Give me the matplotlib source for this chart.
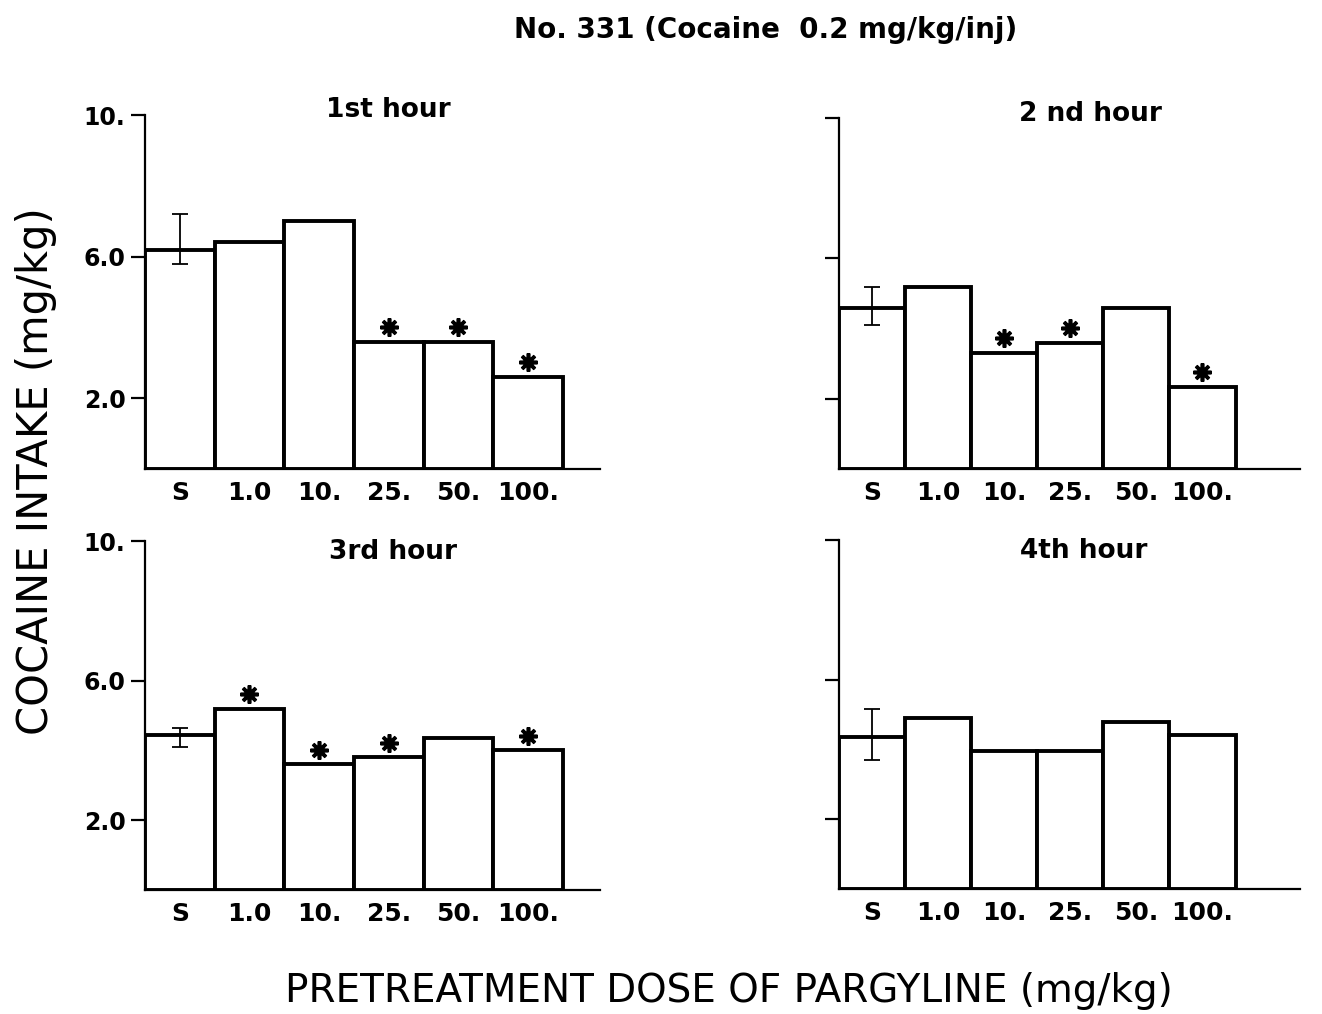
import matplotlib
matplotlib.use("Agg")
import matplotlib.pyplot as plt
import numpy as np

# 資料
doses = ['S', '1.0', '10.', '25.', '50.', '100.']
hour_titles = ['1st hour', '2 nd hour', '3rd hour', '4th hour']

hour1 = [6.2, 6.4, 7.0, 3.6, 3.6, 2.6]
hour2 = [4.6, 5.2, 3.3, 3.6, 4.6, 2.35]
hour3 = [4.45, 5.2, 3.6, 3.8, 4.35, 4.0]
hour4 = [4.35, 4.9, 3.95, 3.95, 4.8, 4.4]

# saline 誤差範圍 (下限, 上限)
saline_err = [(5.8, 7.2), (4.1, 5.2), (4.1, 4.65), (3.7, 5.15)]

# 顯著差異 (*) 的位置
stars = [[3, 4, 5], [2, 3, 5], [1, 2, 3, 5], []]

ytick_vals = [2.0, 6.0, 10.0]
ytick_labels = ['2.0', '6.0', '10.']

fig = plt.figure(figsize=(13.22, 10.14), dpi=100)

# 各面板位置 [left, bottom, width, height] 與 x 範圍
rects = [
    [0.1097, 0.5375, 0.344, 0.349],
    [0.6346, 0.5375, 0.349, 0.346],
    [0.1097, 0.1223, 0.344, 0.344],
    [0.6346, 0.1233, 0.349, 0.344],
]
xmax = [6.03, 6.48, 6.03, 6.48]
title_pos = [(0.535, 1.015), (0.545, 1.013), (0.545, 0.97), (0.53, 0.97)]

xtick_font = dict(family='DejaVu Sans', weight='bold', size=18)
ytick_font = dict(family='DejaVu Sans', weight='bold', size=17)

for i, vals in enumerate([hour1, hour2, hour3, hour4]):
    ax = fig.add_axes(rects[i])
    x = np.arange(len(doses))
    ax.bar(x, vals, width=1.0, color='white', edgecolor='black', linewidth=2.8, zorder=2)

    lo, hi = saline_err[i]
    ax.errorbar([0], [vals[0]], yerr=[[vals[0] - lo], [hi - vals[0]]], fmt='none',
                ecolor='black', elinewidth=1.3, capsize=6, capthick=1.3, zorder=3)

    for s in stars[i]:
        ax.plot(s, vals[s] + 0.42, marker=(8, 2, 0), markersize=13, mew=2.6,
                color='black', zorder=4)

    ax.set_xlim(-0.5, xmax[i])
    ax.set_ylim(0, 10)
    ax.spines['top'].set_visible(False)
    ax.spines['right'].set_visible(False)
    ax.spines['left'].set_linewidth(1.6)
    ax.spines['bottom'].set_linewidth(1.6)

    ax.set_xticks(x)
    ax.set_xticklabels(doses, fontdict=xtick_font)
    ax.tick_params(axis='x', length=0, pad=9)

    ax.set_yticks(ytick_vals)
    if i % 2 == 0:
        ax.set_yticklabels(ytick_labels, fontdict=ytick_font)
    else:
        ax.set_yticklabels([])
    ax.tick_params(axis='y', direction='out', length=10, width=1.6, pad=4)

    tx, ty = title_pos[i]
    ax.text(tx, ty, hour_titles[i], transform=ax.transAxes, ha='center', va='center',
            fontsize=19, fontweight='bold', family='DejaVu Sans')

fig.text(0.579, 0.970, 'No. 331 (Cocaine  0.2 mg/kg/inj)', ha='center', va='center',
         fontsize=20, fontweight='bold', family='DejaVu Sans')

fig.text(0.027, 0.535, 'COCAINE INTAKE (mg/kg)', rotation=90, ha='center', va='center',
         fontsize=30, family='DejaVu Sans')

fig.text(0.5515, 0.023, 'PRETREATMENT DOSE OF PARGYLINE (mg/kg)', ha='center', va='center',
         fontsize=28, family='DejaVu Sans')

plt.savefig('out.png', dpi=100)
plt.close()
